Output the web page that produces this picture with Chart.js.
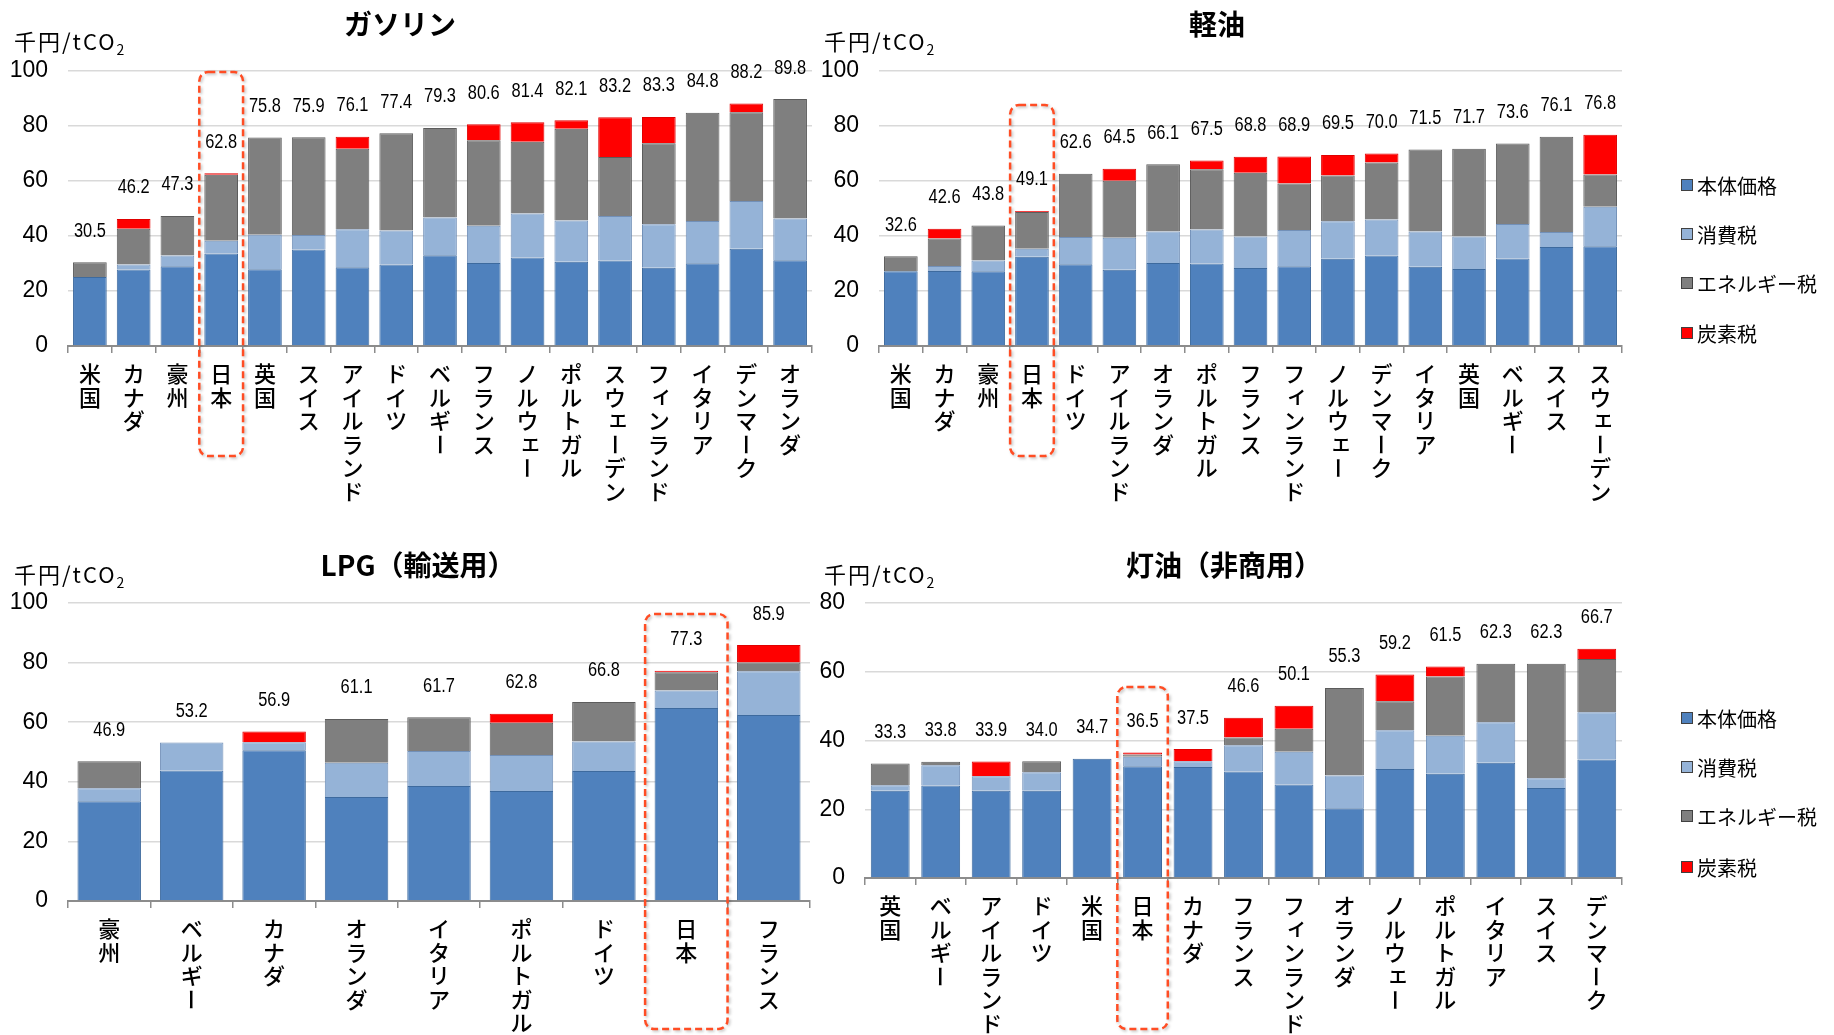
<!DOCTYPE html>
<html lang="ja">
<head>
<meta charset="utf-8">
<title>燃料別 税負担の国際比較</title>
<script src="https://cdn.jsdelivr.net/npm/chart.js@4.4.1/dist/chart.umd.min.js"></script>
<style>
  html, body { margin: 0; padding: 0; background: #fff; }
  #page { position: relative; width: 1834px; height: 1035px; overflow: hidden; font-family: "Noto Sans CJK JP", sans-serif; color: #000; }
  #page canvas { position: absolute; }
  .title { position: absolute; font-weight: 700; font-size: 28px; line-height: 28px; white-space: nowrap; transform: translateX(-50%); }
  .unit { position: absolute; font-size: 22px; line-height: 22px; white-space: nowrap; letter-spacing: 2px; }
  .unit sub { font-size: 14px; vertical-align: -5px; letter-spacing: 0; }
</style>
</head>
<body>
<div id="page">
  <canvas id="gasolineChart" width="830" height="520" style="left:0;top:0"></canvas>
  <canvas id="dieselChart" width="1024" height="520" style="left:810px;top:0"></canvas>
  <canvas id="lpgChart" width="830" height="515" style="left:0;top:520px"></canvas>
  <canvas id="keroseneChart" width="1024" height="515" style="left:810px;top:520px"></canvas>

  <div class="title" style="left:400px;top:9px">ガソリン</div>
  <div class="title" style="left:1217px;top:9px">軽油</div>
  <div class="title" style="left:418px;top:550px">LPG（輸送用）</div>
  <div class="title" style="left:1224px;top:550px">灯油（非商用）</div>

  <div class="unit" style="left:14px;top:29px">千円/tCO<sub>2</sub></div>
  <div class="unit" style="left:824px;top:29px">千円/tCO<sub>2</sub></div>
  <div class="unit" style="left:14px;top:562px">千円/tCO<sub>2</sub></div>
  <div class="unit" style="left:824px;top:562px">千円/tCO<sub>2</sub></div>
</div>

<script>
// ガソリン
const gasolineCountries = ["米国", "カナダ", "豪州", "日本", "英国", "スイス", "アイルランド", "ドイツ", "ベルギー",
    "フランス", "ノルウェー", "ポルトガル", "スウェーデン", "フィンランド", "イタリア", "デンマーク", "オランダ"];
const gasolineBase   = [25.1, 27.8, 29.0, 33.6, 27.9, 35.1, 28.6, 29.6, 33.0, 30.2, 32.2, 30.6, 31.1, 28.5, 30.1, 35.4, 31.2];
const gasolineVat    = [0, 1.8, 3.9, 4.7, 12.6, 5.3, 13.9, 12.4, 13.7, 13.5, 16.0, 15.0, 16.2, 15.8, 15.4, 17.3, 15.2];
const gasolineEnergy = [5.4, 13.0, 14.4, 24.0, 35.3, 35.5, 29.2, 35.4, 32.6, 31.1, 26.1, 33.4, 21.4, 29.4, 39.3, 32.3, 43.4];
const gasolineCarbon = [0, 3.6, 0, 0.5, 0, 0, 4.4, 0, 0, 5.8, 7.1, 3.1, 14.5, 9.6, 0, 3.2, 0];

// 軽油
const dieselCountries = ["米国", "カナダ", "豪州", "日本", "ドイツ", "アイルランド", "オランダ", "ポルトガル", "フランス",
    "フィンランド", "ノルウェー", "デンマーク", "イタリア", "英国", "ベルギー", "スイス", "スウェーデン"];
const dieselBase   = [27.2, 27.3, 27.2, 32.5, 29.7, 27.7, 30.2, 30.0, 28.4, 29.0, 31.7, 32.9, 28.8, 28.0, 31.8, 36.0, 36.3];
const dieselVat    = [0, 1.8, 3.9, 2.9, 9.9, 11.7, 11.4, 12.4, 11.4, 13.2, 13.7, 13.1, 12.8, 11.8, 12.6, 5.5, 14.3];
const dieselEnergy = [5.4, 10.0, 12.7, 13.3, 23.0, 20.7, 24.5, 21.9, 23.2, 16.9, 16.6, 20.7, 29.9, 31.9, 29.2, 34.6, 11.8];
const dieselCarbon = [0, 3.5, 0, 0.4, 0, 4.4, 0, 3.2, 5.8, 9.8, 7.5, 3.3, 0, 0, 0, 0, 14.4];

// LPG（輸送用）
const lpgCountries = ["豪州", "ベルギー", "カナダ", "オランダ", "イタリア", "ポルトガル", "ドイツ", "日本", "フランス"];
const lpgBase   = [33.5, 43.8, 50.6, 34.9, 38.6, 36.9, 43.6, 64.8, 62.4];
const lpgVat    = [4.3, 9.4, 2.7, 11.5, 11.7, 12.1, 9.9, 5.8, 14.7];
const lpgEnergy = [9.1, 0, 0, 14.7, 11.4, 10.8, 13.3, 6.2, 2.9];
const lpgCarbon = [0, 0, 3.6, 0, 0, 3.0, 0, 0.5, 5.9];

// 灯油（非商用）
const keroseneCountries = ["英国", "ベルギー", "アイルランド", "ドイツ", "米国", "日本", "カナダ", "フランス",
    "フィンランド", "オランダ", "ノルウェー", "ポルトガル", "イタリア", "スイス", "デンマーク"];
const keroseneBase   = [25.4, 26.9, 25.4, 25.4, 34.7, 32.5, 32.3, 31.0, 27.2, 20.3, 31.7, 30.3, 33.5, 26.2, 34.5];
const keroseneVat    = [1.6, 5.9, 4.2, 5.4, 0, 2.8, 1.7, 7.6, 9.5, 9.5, 11.3, 11.1, 11.8, 2.8, 13.7];
const keroseneEnergy = [6.3, 1.0, 0, 3.2, 0, 0.6, 0, 2.3, 6.7, 25.5, 8.4, 17.2, 17.0, 33.3, 15.5];
const keroseneCarbon = [0, 0, 4.3, 0, 0, 0.6, 3.5, 5.7, 6.7, 0, 7.8, 2.9, 0, 0, 3.0];

const componentNames = ["本体価格", "消費税", "エネルギー税", "炭素税"];
const yTicks = [0, 20, 40, 60, 80, 100];

document.addEventListener("DOMContentLoaded", function () {
    const fills = ["#4f81bd", "#95b3d7", "#7f7f7f", "#ff0000"];
    const edges = ["#3d6a9e", "#7290b8", "#5c5c5c", "#e00000"];
    const smallKana = "ァィゥェォッャュョ";

    // total of each stack, written above the bar in a condensed face
    const totalLabels = {
        id: "totalLabels",
        afterDatasetsDraw(chart) {
            const { ctx, scales: { x, y } } = chart;
            ctx.save();
            ctx.font = "20px 'Liberation Sans', Arial, sans-serif";
            ctx.fillStyle = "#000";
            ctx.textAlign = "center";
            ctx.textBaseline = "middle";
            chart.data.labels.forEach((_, i) => {
                const total = chart.data.datasets.reduce((s, ds) => s + ds.data[i], 0);
                ctx.save();
                ctx.translate(x.getPixelForValue(i), y.getPixelForValue(total) - 31);
                ctx.scale(0.82, 1);
                ctx.fillText(total.toFixed(1), 0, 0);
                ctx.restore();
            });
            ctx.restore();
        }
    };

    // country names set top-to-bottom, one character per line
    const verticalLabels = {
        id: "verticalLabels",
        afterDraw(chart) {
            const { ctx, chartArea, scales: { x } } = chart;
            ctx.save();
            ctx.font = '500 22px "Noto Sans CJK JP", sans-serif';
            ctx.fillStyle = "#000";
            ctx.textAlign = "center";
            ctx.textBaseline = "middle";
            chart.data.labels.forEach((label, i) => {
                const cx = x.getPixelForValue(i);
                [...label].forEach((ch, j) => {
                    const cy = chartArea.bottom + 28 + j * 23.5;
                    if (ch === "ー") {
                        ctx.save();
                        ctx.translate(cx, cy);
                        ctx.rotate(Math.PI / 2);
                        ctx.fillText(ch, 0, 0);
                        ctx.restore();
                    } else if (smallKana.includes(ch)) {
                        ctx.fillText(ch, cx + 3, cy - 3);
                    } else {
                        ctx.fillText(ch, cx, cy);
                    }
                });
            });
            ctx.restore();
        }
    };

    // dashed frame around 日本
    const japanBox = {
        id: "japanBox",
        afterDraw(chart, args, opts) {
            const { ctx, scales: { x } } = chart;
            const i = chart.data.labels.indexOf("日本");
            if (i < 0) return;
            const w = x.width / chart.data.labels.length;
            const left = x.getPixelForValue(i) - w / 2;
            ctx.save();
            ctx.strokeStyle = "#ff4d24";
            ctx.lineWidth = 2.5;
            ctx.setLineDash([7, 4]);
            ctx.shadowColor = "rgba(0,0,0,0.25)";
            ctx.shadowBlur = 3;
            ctx.shadowOffsetX = 1.5;
            ctx.shadowOffsetY = 1.5;
            ctx.beginPath();
            ctx.roundRect(left, opts.top, w, opts.bottom - opts.top, 9);
            ctx.stroke();
            ctx.restore();
        }
    };

    const sideLegend = {
        id: "sideLegend",
        afterDraw(chart, args, opts) {
            if (!opts.rows) return;
            const { ctx } = chart;
            ctx.save();
            ctx.font = '20px "Noto Sans CJK JP", sans-serif';
            ctx.textBaseline = "middle";
            chart.data.datasets.forEach((ds, k) => {
                const cy = opts.rows[k];
                ctx.fillStyle = ds.backgroundColor;
                ctx.fillRect(opts.x, cy - 6, 12, 12);
                ctx.strokeStyle = "#404040";
                ctx.lineWidth = 1;
                ctx.strokeRect(opts.x + 0.5, cy - 5.5, 11, 11);
                ctx.fillStyle = "#000";
                ctx.fillText(ds.label, opts.x + 16, cy + 1);
            });
            ctx.restore();
        }
    };

    function buildChart(canvasId, labels, series, setup) {
        const datasets = series.map((data, k) => ({
            label: componentNames[k],
            data: data,
            backgroundColor: fills[k],
            borderColor: edges[k],
            borderWidth: 1,
            barPercentage: 0.77,
            categoryPercentage: 1.0
        }));

        return new Chart(document.getElementById(canvasId), {
            type: "bar",
            data: { labels: labels, datasets: datasets },
            options: {
                responsive: false,
                animation: false,
                devicePixelRatio: 1,
                layout: { padding: { top: setup.top, right: setup.right, left: 0, bottom: 0 } },
                plugins: {
                    legend: { display: false },
                    tooltip: { enabled: false },
                    japanBox: setup.box,
                    sideLegend: setup.legend || {}
                },
                scales: {
                    x: {
                        stacked: true,
                        ticks: { display: false },
                        grid: { offset: true, drawOnChartArea: false, drawTicks: true, tickLength: 7, color: "#8c8c8c", lineWidth: 1.5 },
                        border: { display: true, color: "#8c8c8c", width: 2 },
                        afterFit: s => { s.height = setup.xHeight; }
                    },
                    y: {
                        stacked: true,
                        min: 0,
                        max: setup.yMax,
                        afterBuildTicks: s => { s.ticks = yTicks.filter(v => v <= setup.yMax).map(v => ({ value: v })); },
                        ticks: { padding: 20, color: "#000", font: { family: "'Liberation Sans', Arial, sans-serif", size: 23 } },
                        grid: { color: "#d9d9d9", lineWidth: 1.5, drawTicks: false },
                        border: { display: false },
                        afterFit: s => { s.width = setup.yWidth; }
                    }
                }
            },
            plugins: [totalLabels, verticalLabels, japanBox, sideLegend]
        });
    }

    buildChart("gasolineChart", gasolineCountries,
        [gasolineBase, gasolineVat, gasolineEnergy, gasolineCarbon],
        { top: 71, right: 18, yWidth: 68, xHeight: 174, yMax: 100, box: { top: 72, bottom: 456 } });

    buildChart("dieselChart", dieselCountries,
        [dieselBase, dieselVat, dieselEnergy, dieselCarbon],
        { top: 71, right: 212, yWidth: 69, xHeight: 174, yMax: 100, box: { top: 105, bottom: 456 },
          legend: { x: 871, rows: [185, 234, 283, 333] } });

    buildChart("lpgChart", lpgCountries,
        [lpgBase, lpgVat, lpgEnergy, lpgCarbon],
        { top: 83, right: 20, yWidth: 68, xHeight: 134, yMax: 100, box: { top: 94, bottom: 509 } });

    buildChart("keroseneChart", keroseneCountries,
        [keroseneBase, keroseneVat, keroseneEnergy, keroseneCarbon],
        { top: 83, right: 212, yWidth: 55, xHeight: 157, yMax: 80, box: { top: 167, bottom: 509 },
          legend: { x: 871, rows: [198, 247, 296, 347] } });
});
</script>
</body>
</html>
